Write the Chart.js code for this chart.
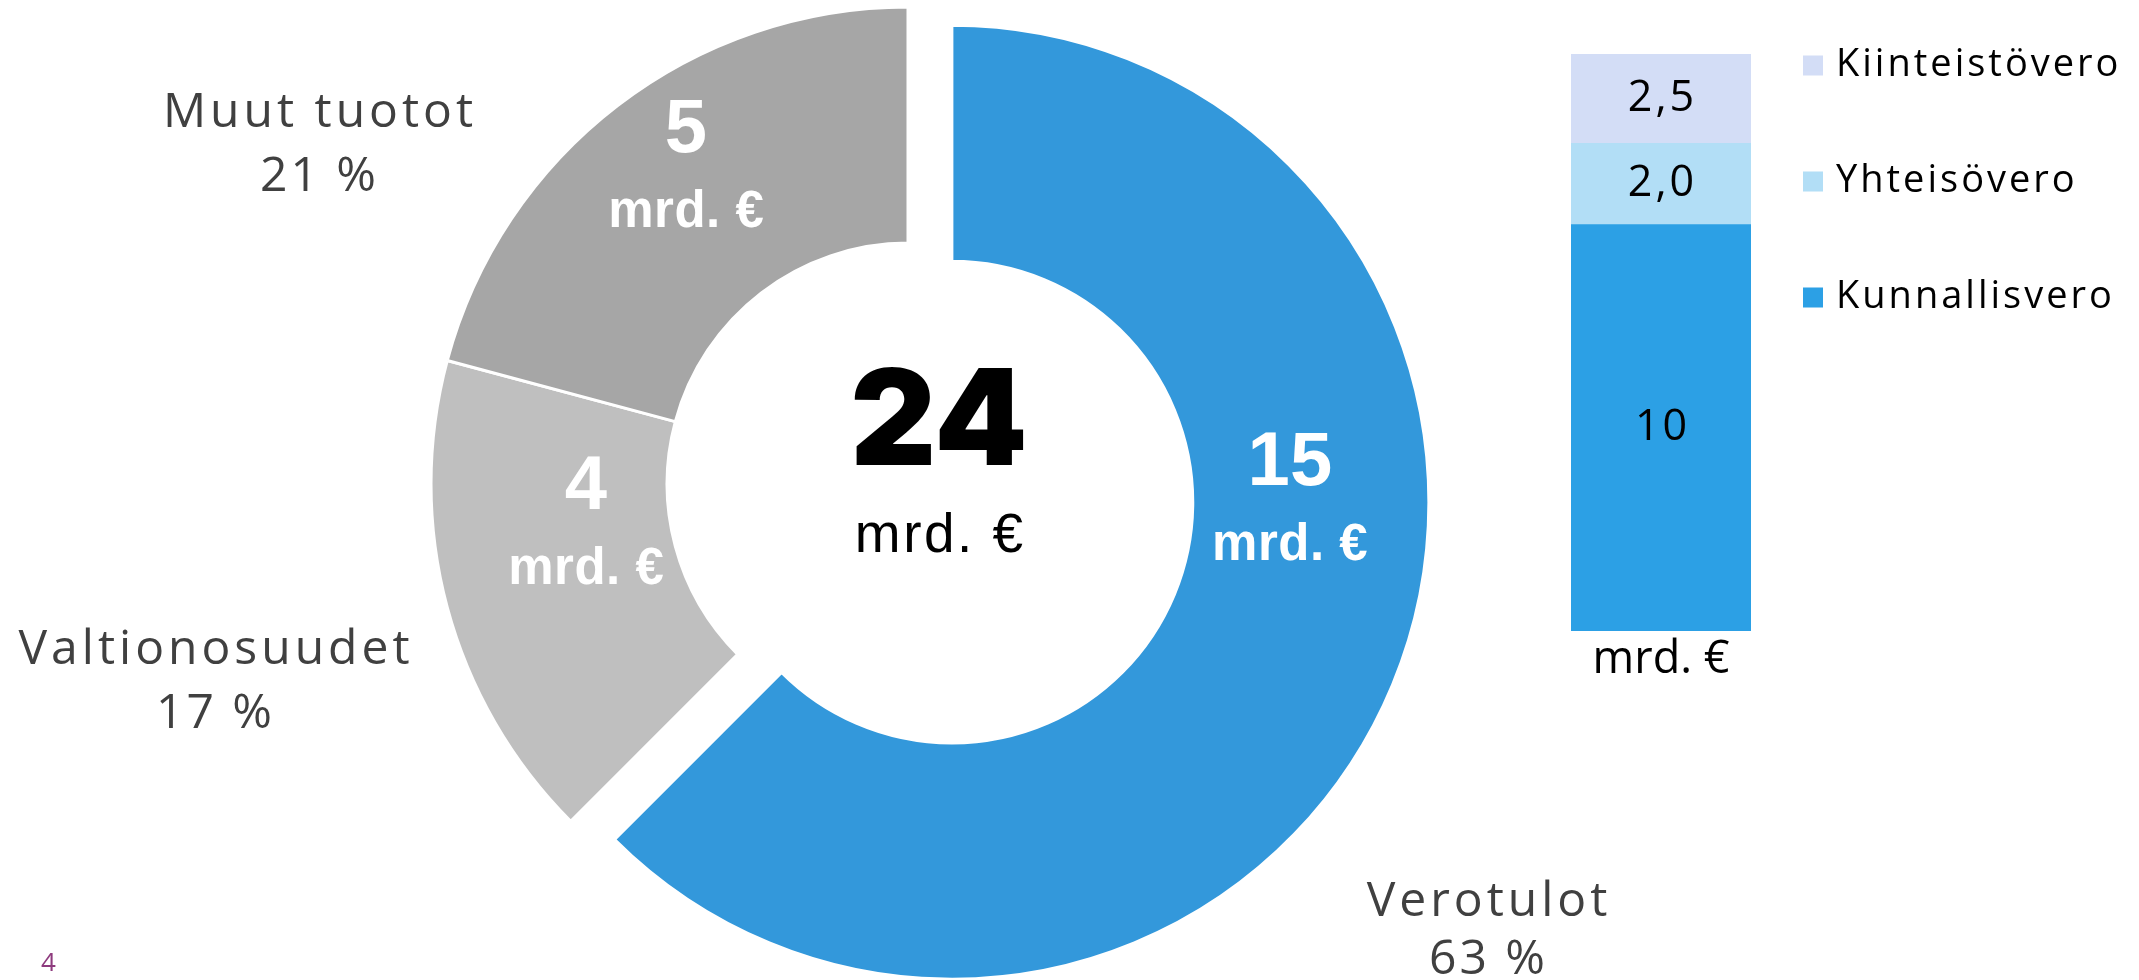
<!DOCTYPE html>
<html>
<head>
<meta charset="utf-8">
<script src="https://cdn.jsdelivr.net/npm/chart.js@4"></script>
<style>
  html, body { margin: 0; padding: 0; background: #fff; }
  body { width: 2139px; height: 980px; position: relative; overflow: hidden; }
  .box { position: absolute; }
  #donutBox { left: 0; top: 0; width: 2139px; height: 980px; }
  #barBox { left: 1540px; top: 0; width: 599px; height: 700px; }
  #pageNo { position: absolute; left: 41px; top: 943px; font: 26px "Open Sans", sans-serif; line-height: 36px; color: #8e3b7e; }
</style>
</head>
<body>
<div class="box" id="donutBox"><canvas id="donutChart"></canvas></div>
<div class="box" id="barBox"><canvas id="barChart"></canvas></div>
<div id="pageNo">4</div>
<script>
//Data for the doughnut
const incomeNames = ["Verotulot", "Valtionosuudet", "Muut tuotot"];
const incomeValues = [15, 4, 5];
const incomeShares = ["63 %", "17 %", "21 %"];
const totalText = "24";
const unitText = "mrd. €";

//Data for the tax bar
const taxCategory = ["mrd. €"];
const taxNames = ["Kunnallisvero", "Yhteisövero", "Kiinteistövero"];
const taxValues = [10, 2.0, 2.2];
const taxLabels = ["10", "2,0", "2,5"];

//Colors
const incomeColors = ["#3398db", "#bfbfbf", "#a6a6a6"];
const taxColors = ["#2ca0e5", "#b2def6", "#d3ddf6"];

//Look of the doughnut (pixels)
const explode = [47.5, 0, 0];
const innerSpots = [[338, -38], [-322, 4], [-222, -353]]; // from each slice centre
const outerSpots = [[579, 418], [-694, 166], [-590, -371]]; // from chart centre
const shareGap = [58, 64, 64];

const textFont = '"Open Sans", sans-serif';
const boldFont = '"Liberation Sans", Arial, sans-serif';

//pulls a slice out along its middle angle
const explodePlugin = {
  id: "explode",
  afterDatasetUpdate(chart, args) {
    args.meta.data.forEach((arc, i) => {
      const d = explode[i] || 0;
      if (!d) return;
      const mid = (arc.startAngle + arc.endAngle) / 2;
      arc.x += Math.cos(mid) * d;
      arc.y += Math.sin(mid) * d;
    });
  },
};

const spaced = (ctx, text, x, y, spacing) => {
  ctx.letterSpacing = spacing + "px";
  ctx.fillText(text, x + spacing / 2, y);
};

//texts on and around the doughnut
const donutLabels = {
  id: "donutLabels",
  afterDatasetsDraw(chart) {
    const ctx = chart.ctx;
    const area = chart.chartArea;
    const cx = (area.left + area.right) / 2;
    const cy = (area.top + area.bottom) / 2;
    const arcs = chart.getDatasetMeta(0).data;
    ctx.save();
    ctx.textAlign = "center";
    ctx.textBaseline = "middle";

    arcs.forEach((arc, i) => {
      const x = arc.x + innerSpots[i][0];
      const y = arc.y + innerSpots[i][1];
      ctx.fillStyle = "#fff";
      ctx.font = "bold 76px " + boldFont;
      spaced(ctx, String(incomeValues[i]), x, y, 0);
      ctx.font = "bold 51px " + boldFont;
      spaced(ctx, unitText, x, y + 82, 0.5);

      const ox = cx + outerSpots[i][0];
      const oy = cy + outerSpots[i][1];
      ctx.fillStyle = "#404040";
      ctx.font = "48px " + textFont;
      spaced(ctx, incomeNames[i], ox, oy, 4);
      spaced(ctx, incomeShares[i], ox, oy + shareGap[i], 3);
    });

    //total in the hole
    ctx.fillStyle = "#000";
    ctx.font = "900 133px Inter, " + boldFont;
    spaced(ctx, totalText, cx + 31, cy - 59, 0);
    ctx.font = "55px " + boldFont;
    spaced(ctx, unitText, cx + 31, cy + 53, 2.5);
    ctx.restore();
  },
};

//values inside the stacked bar
const barLabels = {
  id: "barLabels",
  afterDatasetsDraw(chart) {
    const ctx = chart.ctx;
    ctx.save();
    ctx.textAlign = "center";
    ctx.textBaseline = "middle";
    ctx.fillStyle = "#000";
    ctx.font = "43px " + textFont;
    chart.data.datasets.forEach((ds, i) => {
      const bar = chart.getDatasetMeta(i).data[0];
      spaced(ctx, taxLabels[i], bar.x, (bar.y + bar.base) / 2, 3);
    });
    ctx.restore();
  },
};

//legend to the right of the bar, top item first
const taxLegend = {
  id: "taxLegend",
  afterDraw(chart) {
    const ctx = chart.ctx;
    const area = chart.chartArea;
    ctx.save();
    ctx.textAlign = "left";
    ctx.textBaseline = "middle";
    ctx.font = "38px " + textFont;
    chart.data.datasets.slice().reverse().forEach((ds, k) => {
      const y = area.top + 11.5 + k * 116;
      ctx.fillStyle = ds.backgroundColor;
      ctx.fillRect(area.right + 52, y - 10, 20, 20);
      ctx.fillStyle = "#000";
      ctx.letterSpacing = "3px";
      ctx.fillText(ds.label, area.right + 85, y);
    });
    ctx.restore();
  },
};

//config_donut
const config_donut = {
  type: "doughnut",
  data: {
    labels: incomeNames,
    datasets: [
      {
        data: incomeValues,
        backgroundColor: incomeColors,
        borderColor: "#fff",
        borderWidth: 3,
      },
    ],
  },
  options: {
    responsive: true,
    maintainAspectRatio: false,
    animation: false,
    events: [],
    radius: 477,
    cutout: "50.5%",
    layout: {
      padding: { left: 425, right: 748, top: 0, bottom: 12 },
    },
    plugins: {
      legend: { display: false },
      tooltip: { enabled: false },
    },
  },
  plugins: [explodePlugin, donutLabels],
};

//config_bar
const config_bar = {
  type: "bar",
  data: {
    labels: taxCategory,
    datasets: taxNames.map((name, i) => ({
      label: name,
      data: [taxValues[i]],
      backgroundColor: taxColors[i],
      barPercentage: 1,
      categoryPercentage: 1,
    })),
  },
  options: {
    responsive: true,
    maintainAspectRatio: false,
    animation: false,
    events: [],
    layout: {
      padding: { left: 31, right: 388, top: 54, bottom: 11 },
    },
    scales: {
      x: {
        stacked: true,
        grid: { display: false, drawTicks: false },
        border: { display: false },
        ticks: {
          color: "#000",
          padding: 2,
          font: { family: textFont, size: 45 },
        },
      },
      y: {
        stacked: true,
        display: false,
        min: 0,
        max: taxValues.reduce((a, b) => a + b, 0),
      },
    },
    plugins: {
      legend: { display: false },
      tooltip: { enabled: false },
    },
  },
  plugins: [barLabels, taxLegend],
};

var donutChart = new Chart(document.getElementById("donutChart"), config_donut);
var barChart = new Chart(document.getElementById("barChart"), config_bar);
</script>
</body>
</html>
